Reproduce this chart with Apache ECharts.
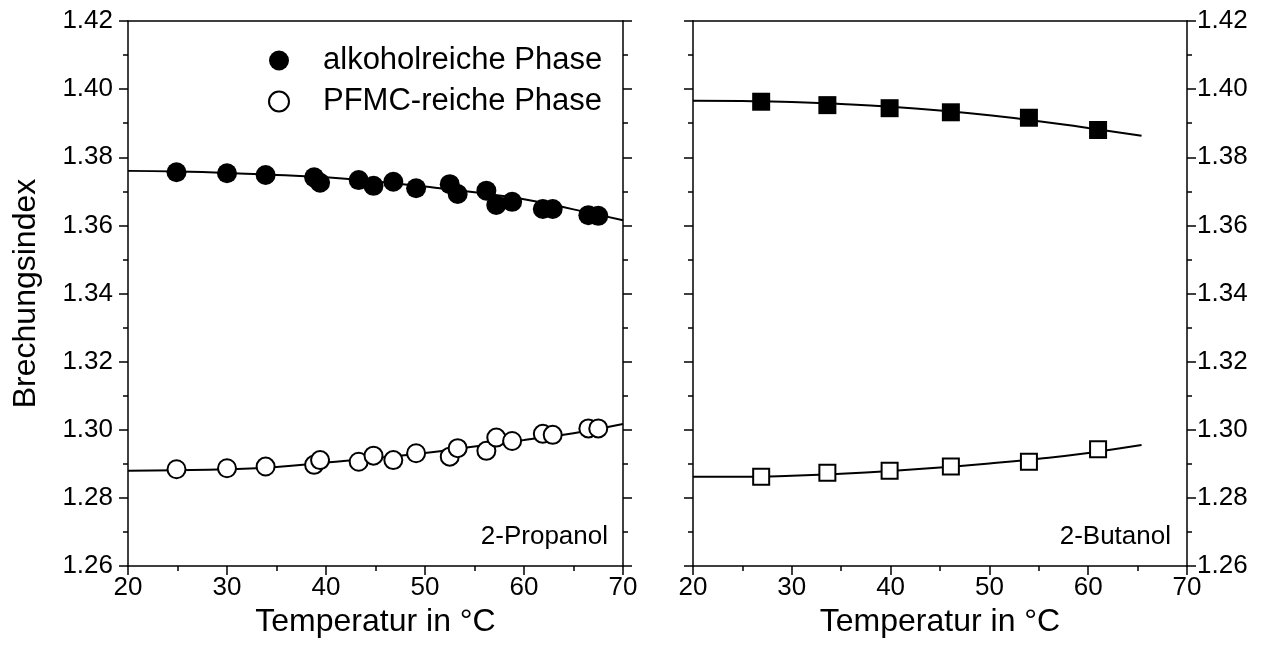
<!DOCTYPE html>
<html><head><meta charset="utf-8">
<script src="https://cdn.jsdelivr.net/npm/echarts@6/dist/echarts.min.js"></script>
<style>html,body{margin:0;padding:0;background:#fff}#c{width:1264px;height:650px}</style>
</head><body><div id="c"></div>
<script>
// 2-Propanol (left panel)
const propT = [24.9, 30.0, 33.9, 38.8, 39.4, 43.3, 44.8, 46.8, 49.1, 52.5, 53.3, 56.2, 57.2, 58.8, 61.9, 62.9, 66.5, 67.5];
const propAlk = [1.3756, 1.3753, 1.3748, 1.3741, 1.3725, 1.3733, 1.3716, 1.3728, 1.3709, 1.3721, 1.3692, 1.3702, 1.3660, 1.3669, 1.3648, 1.3648, 1.3630, 1.3628];
const propPFMC = [1.2884, 1.2887, 1.2892, 1.2897, 1.2911, 1.2906, 1.2924, 1.2911, 1.2931, 1.2921, 1.2946, 1.2938, 1.2977, 1.2967, 1.2988, 1.2985, 1.3004, 1.3004];
const propFitT = [20, 25, 30, 35, 40, 45, 50, 55, 60, 65, 70];
const propFitAlk = [1.3760, 1.3758, 1.3754, 1.3748, 1.3741, 1.3729, 1.3714, 1.3697, 1.3677, 1.3647, 1.3615];
const propFitPFMC = [1.2880, 1.2881, 1.2884, 1.2891, 1.2904, 1.2917, 1.2932, 1.2951, 1.2970, 1.2990, 1.3017];
// 2-Butanol (right panel)
const butT = [26.9, 33.6, 39.9, 46.1, 54.0, 61.0];
const butAlk = [1.3963, 1.3953, 1.3944, 1.3932, 1.3916, 1.3880];
const butPFMC = [1.2862, 1.2874, 1.2880, 1.2892, 1.2906, 1.2943];
const butFitT = [20, 25, 30, 35, 40, 45, 50, 55, 60, 65.4];
const butFitAlk = [1.3966, 1.3965, 1.3962, 1.3956, 1.3948, 1.3937, 1.3923, 1.3906, 1.3886, 1.3863];
const butFitPFMC = [1.2862, 1.2862, 1.2865, 1.2871, 1.2879, 1.2889, 1.2901, 1.2915, 1.2932, 1.2955];
const xTicks = [20, 30, 40, 50, 60, 70];
const yTicks = [1.26, 1.28, 1.30, 1.32, 1.34, 1.36, 1.38, 1.40, 1.42];

const legAlk = 'alkoholreiche Phase';
const legPFMC = 'PFMC-reiche Phase';
const xName = 'Temperatur in °C';
const yName = 'Brechungsindex';

const zip = (a, b) => a.map((v, i) => [v, b[i]]);
const FONT = 'Liberation Sans, Arial, sans-serif';
const black = '#000';

function xAx(grid, pos, labels) {
  return {
    gridIndex: grid, type: 'value', position: pos, min: 20, max: 70, interval: 10,
    axisLine: {show: true, onZero: false, lineStyle: {color: black, width: 1.5}},
    axisTick: {show: labels, inside: false, length: 9, lineStyle: {color: black, width: 1.5}},
    minorTick: {show: labels, splitNumber: 2, length: 5, lineStyle: {color: black, width: 1.5}},
    axisLabel: {show: labels, color: black, fontSize: 26, fontFamily: FONT, margin: 9,
      formatter: v => xTicks.includes(v) ? String(v) : ''},
    splitLine: {show: false},
    name: labels ? xName : '', nameLocation: 'middle', nameGap: 38,
    nameTextStyle: {color: black, fontSize: 32, fontFamily: FONT}
  };
}
function yAx(grid, pos, labels, name) {
  return {
    gridIndex: grid, type: 'value', position: pos, min: 1.26, max: 1.42, interval: 0.02,
    axisLine: {show: true, onZero: false, lineStyle: {color: black, width: 1.5}},
    axisTick: {show: true, inside: false, length: 9, lineStyle: {color: black, width: 1.5}},
    minorTick: {show: true, splitNumber: 2, length: 5, lineStyle: {color: black, width: 1.5}},
    axisLabel: {show: labels, color: black, fontSize: 26, fontFamily: FONT, margin: pos === 'left' ? 15 : 10,
      formatter: v => { const s = v.toFixed(2); return yTicks.some(t => t.toFixed(2) === s) ? s : ''; }},
    splitLine: {show: false},
    name: name || '', nameLocation: 'middle', nameGap: 86, nameRotate: 90,
    nameTextStyle: {color: black, fontSize: 32, fontFamily: FONT}
  };
}

const chart = echarts.init(document.getElementById('c'), null, {renderer: 'canvas'});
const scatterFilled = (name, data, xi, yi, sym, size) => ({
  name, type: 'scatter', xAxisIndex: xi, yAxisIndex: yi, data, symbol: sym, symbolSize: size,
  itemStyle: {color: black, borderColor: black, borderWidth: 0, opacity: 1}, z: 5
});
const scatterOpen = (name, data, xi, yi, sym, size) => ({
  name, type: 'scatter', xAxisIndex: xi, yAxisIndex: yi, data, symbol: sym, symbolSize: size,
  itemStyle: {color: '#fff', borderColor: black, borderWidth: 2, opacity: 1}, z: 5
});
const fitLine = (name, data, xi, yi) => ({
  name, type: 'line', xAxisIndex: xi, yAxisIndex: yi, data, smooth: true, showSymbol: false,
  lineStyle: {color: black, width: 2}, z: 3, silent: true
});

chart.setOption({
  animation: false,
  backgroundColor: '#fff',
  grid: [
    {left: 128, top: 21, width: 495, height: 545},
    {left: 693, top: 21, width: 494, height: 545}
  ],
  xAxis: [xAx(0, 'bottom', true), xAx(0, 'top', false), xAx(1, 'bottom', true), xAx(1, 'top', false)],
  yAxis: [yAx(0, 'left', true, yName), yAx(0, 'right', false), yAx(1, 'left', false), yAx(1, 'right', true)],
  legend: {
    data: [legAlk, legPFMC], orient: 'vertical', left: 263, top: 40,
    itemWidth: 20, itemHeight: 20, itemGap: 10, icon: 'circle',
    textStyle: {color: black, fontSize: 31, fontFamily: FONT, padding: [0, 0, 0, 29]},
    selectedMode: false
  },
  graphic: [
    {type: 'text', right: 1264 - 608, top: 524, style: {text: '2-Propanol', fill: black, font: '26px ' + FONT}},
    {type: 'text', right: 1264 - 1171, top: 524, style: {text: '2-Butanol', fill: black, font: '26px ' + FONT}}
  ],
  series: [
    fitLine('fitPropAlk', zip(propFitT, propFitAlk), 0, 0),
    fitLine('fitPropPFMC', zip(propFitT, propFitPFMC), 0, 0),
    scatterFilled(legAlk, zip(propT, propAlk), 0, 0, 'circle', 20),
    scatterOpen(legPFMC, zip(propT, propPFMC), 0, 0, 'circle', 18),
    fitLine('fitButAlk', zip(butFitT, butFitAlk), 2, 3),
    fitLine('fitButPFMC', zip(butFitT, butFitPFMC), 2, 3),
    scatterFilled('butAlk', zip(butT, butAlk), 2, 3, 'rect', 18),
    scatterOpen('butPFMC', zip(butT, butPFMC), 2, 3, 'rect', 16)
  ]
});
</script></body></html>
